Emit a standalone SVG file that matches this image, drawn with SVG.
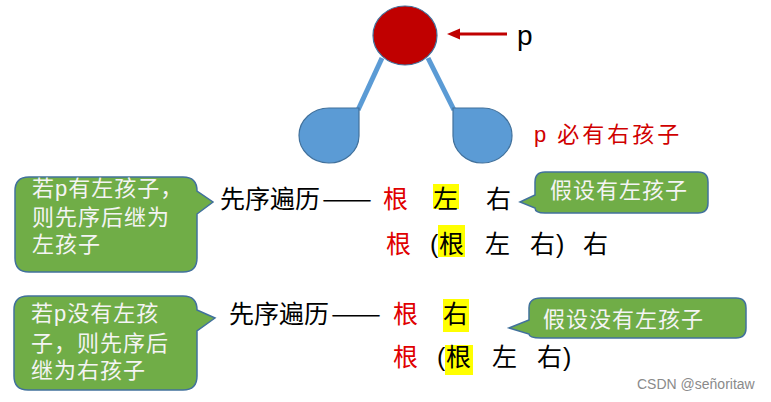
<svg xmlns="http://www.w3.org/2000/svg" width="771" height="402" viewBox="0 0 771 402">
<defs>
<style>
.cjk{font-family:"Noto Sans CJK SC","Liberation Sans",sans-serif;}
.lat{font-family:"Liberation Sans","Noto Sans CJK SC",sans-serif;}
.main{font-size:25px;fill:#000;}
.red{fill:#E00000;}
.hl{fill:#FFFF00;}
.callout{fill:#70AD47;stroke:#41719C;stroke-width:1.5;}
.ctext{font-family:"Liberation Sans","Noto Sans CJK SC",sans-serif;font-size:22px;fill:#F4F4F4;letter-spacing:1px;}
.edge{stroke:#5B9BD5;stroke-width:5;fill:none;}
.leaf{fill:#5B9BD5;stroke:#41719C;stroke-width:1.2;}
</style>
</defs>
<rect width="771" height="402" fill="#fff"/>

<g id="connectors">
<line class="edge" x1="382" y1="58" x2="358" y2="110"/>
<line class="edge" x1="428" y1="58" x2="454" y2="110"/>
<line x1="507" y1="34" x2="458" y2="34" stroke="#C00000" stroke-width="3"/>
<polygon points="447,34 460,28.5 460,39.5" fill="#C00000"/>
</g>

<g id="root">
<ellipse cx="405" cy="35.5" rx="32" ry="29.5" fill="#C00000" stroke="#41719C" stroke-width="1.2"/>
</g>
<g id="leftChild">
<path class="leaf" d="M359,108 V136 A30,27.5 0 1,1 329,108 Z"/>
</g>
<g id="rightChild">
<path class="leaf" d="M453,108 H483 A29.5,27.5 0 1,1 453,136 Z"/>
</g>
<g id="pLabel">
<text class="lat" x="517" y="45" font-size="28" fill="#000">p</text>
</g>
<g id="rightLabel">
<text class="cjk" x="534" y="142" font-size="22" fill="#D00000" letter-spacing="3"><tspan class="lat">p</tspan> 必有右孩子</text>
</g>

<g id="callout1">
<path class="callout" d="M29,177 H183 Q197,177 197,191 L213,202 L197,214 V258 Q197,272 183,272 H29 Q15,272 15,258 V191 Q15,177 29,177 Z"/>
<text class="ctext" x="32" y="196">若p有左孩子，</text>
<text class="ctext" x="32" y="225">则先序后继为</text>
<text class="ctext" x="32" y="252">左孩子</text>
</g>

<g id="row1">
<text class="cjk main" x="220" y="208">先序遍历</text>
<text class="cjk main" x="322" y="208" textLength="50" lengthAdjust="spacingAndGlyphs">——</text>
<text class="cjk main red" x="383" y="208">根</text>
<rect class="hl" x="433" y="184" width="26" height="25"/>
<text class="cjk main" x="433" y="208">左</text>
<text class="cjk main" x="486" y="208">右</text>
</g>

<g id="callout2">
<path class="callout" d="M545,172 H698 Q708,172 708,182 V203 Q708,213 698,213 H545 Q535,213 535,208 L520,202 L535,195 V182 Q535,172 545,172 Z"/>
<text class="ctext" x="550" y="198">假设有左孩子</text>
</g>

<g id="row2">
<text class="cjk main red" x="386" y="253">根</text>
<text class="lat main" x="430" y="253">(</text>
<rect class="hl" x="438" y="225" width="27" height="32"/>
<text class="cjk main" x="439" y="253">根</text>
<text class="cjk main" x="485" y="253">左</text>
<text class="cjk main" x="530" y="253">右</text>
<text class="lat main" x="556" y="253">)</text>
<text class="cjk main" x="583" y="253">右</text>
</g>

<g id="callout3">
<path class="callout" d="M28,296 H183 Q197,296 197,310 L215,318 L197,331 V376 Q197,390 183,390 H28 Q14,390 14,376 V310 Q14,296 28,296 Z"/>
<text class="ctext" x="31" y="321">若p没有左孩</text>
<text class="ctext" x="31" y="351">子，则先序后</text>
<text class="ctext" x="31" y="378">继为右孩子</text>
</g>

<g id="row3">
<text class="cjk main" x="229" y="323">先序遍历</text>
<text class="cjk main" x="331" y="323" textLength="50" lengthAdjust="spacingAndGlyphs">——</text>
<text class="cjk main red" x="393" y="323">根</text>
<rect class="hl" x="443" y="299" width="26" height="33"/>
<text class="cjk main" x="443" y="323">右</text>
</g>

<g id="callout4">
<path class="callout" d="M541,298 H736 Q746,298 746,308 V328 Q746,338 736,338 H541 Q529,338 529,334 L509,328 L529,320 V308 Q529,298 541,298 Z"/>
<text class="ctext" x="543" y="327" letter-spacing="1.5">假设没有左孩子</text>
</g>

<g id="row4">
<text class="cjk main red" x="393" y="366">根</text>
<text class="lat main" x="437" y="366">(</text>
<rect class="hl" x="445" y="345" width="28" height="30"/>
<text class="cjk main" x="446" y="366">根</text>
<text class="cjk main" x="492" y="366">左</text>
<text class="cjk main" x="537" y="366">右</text>
<text class="lat main" x="563" y="366">)</text>
</g>

<text class="lat" x="637" y="389" font-size="14" fill="#8A8A8A">CSDN @señoritaw</text>
</svg>
